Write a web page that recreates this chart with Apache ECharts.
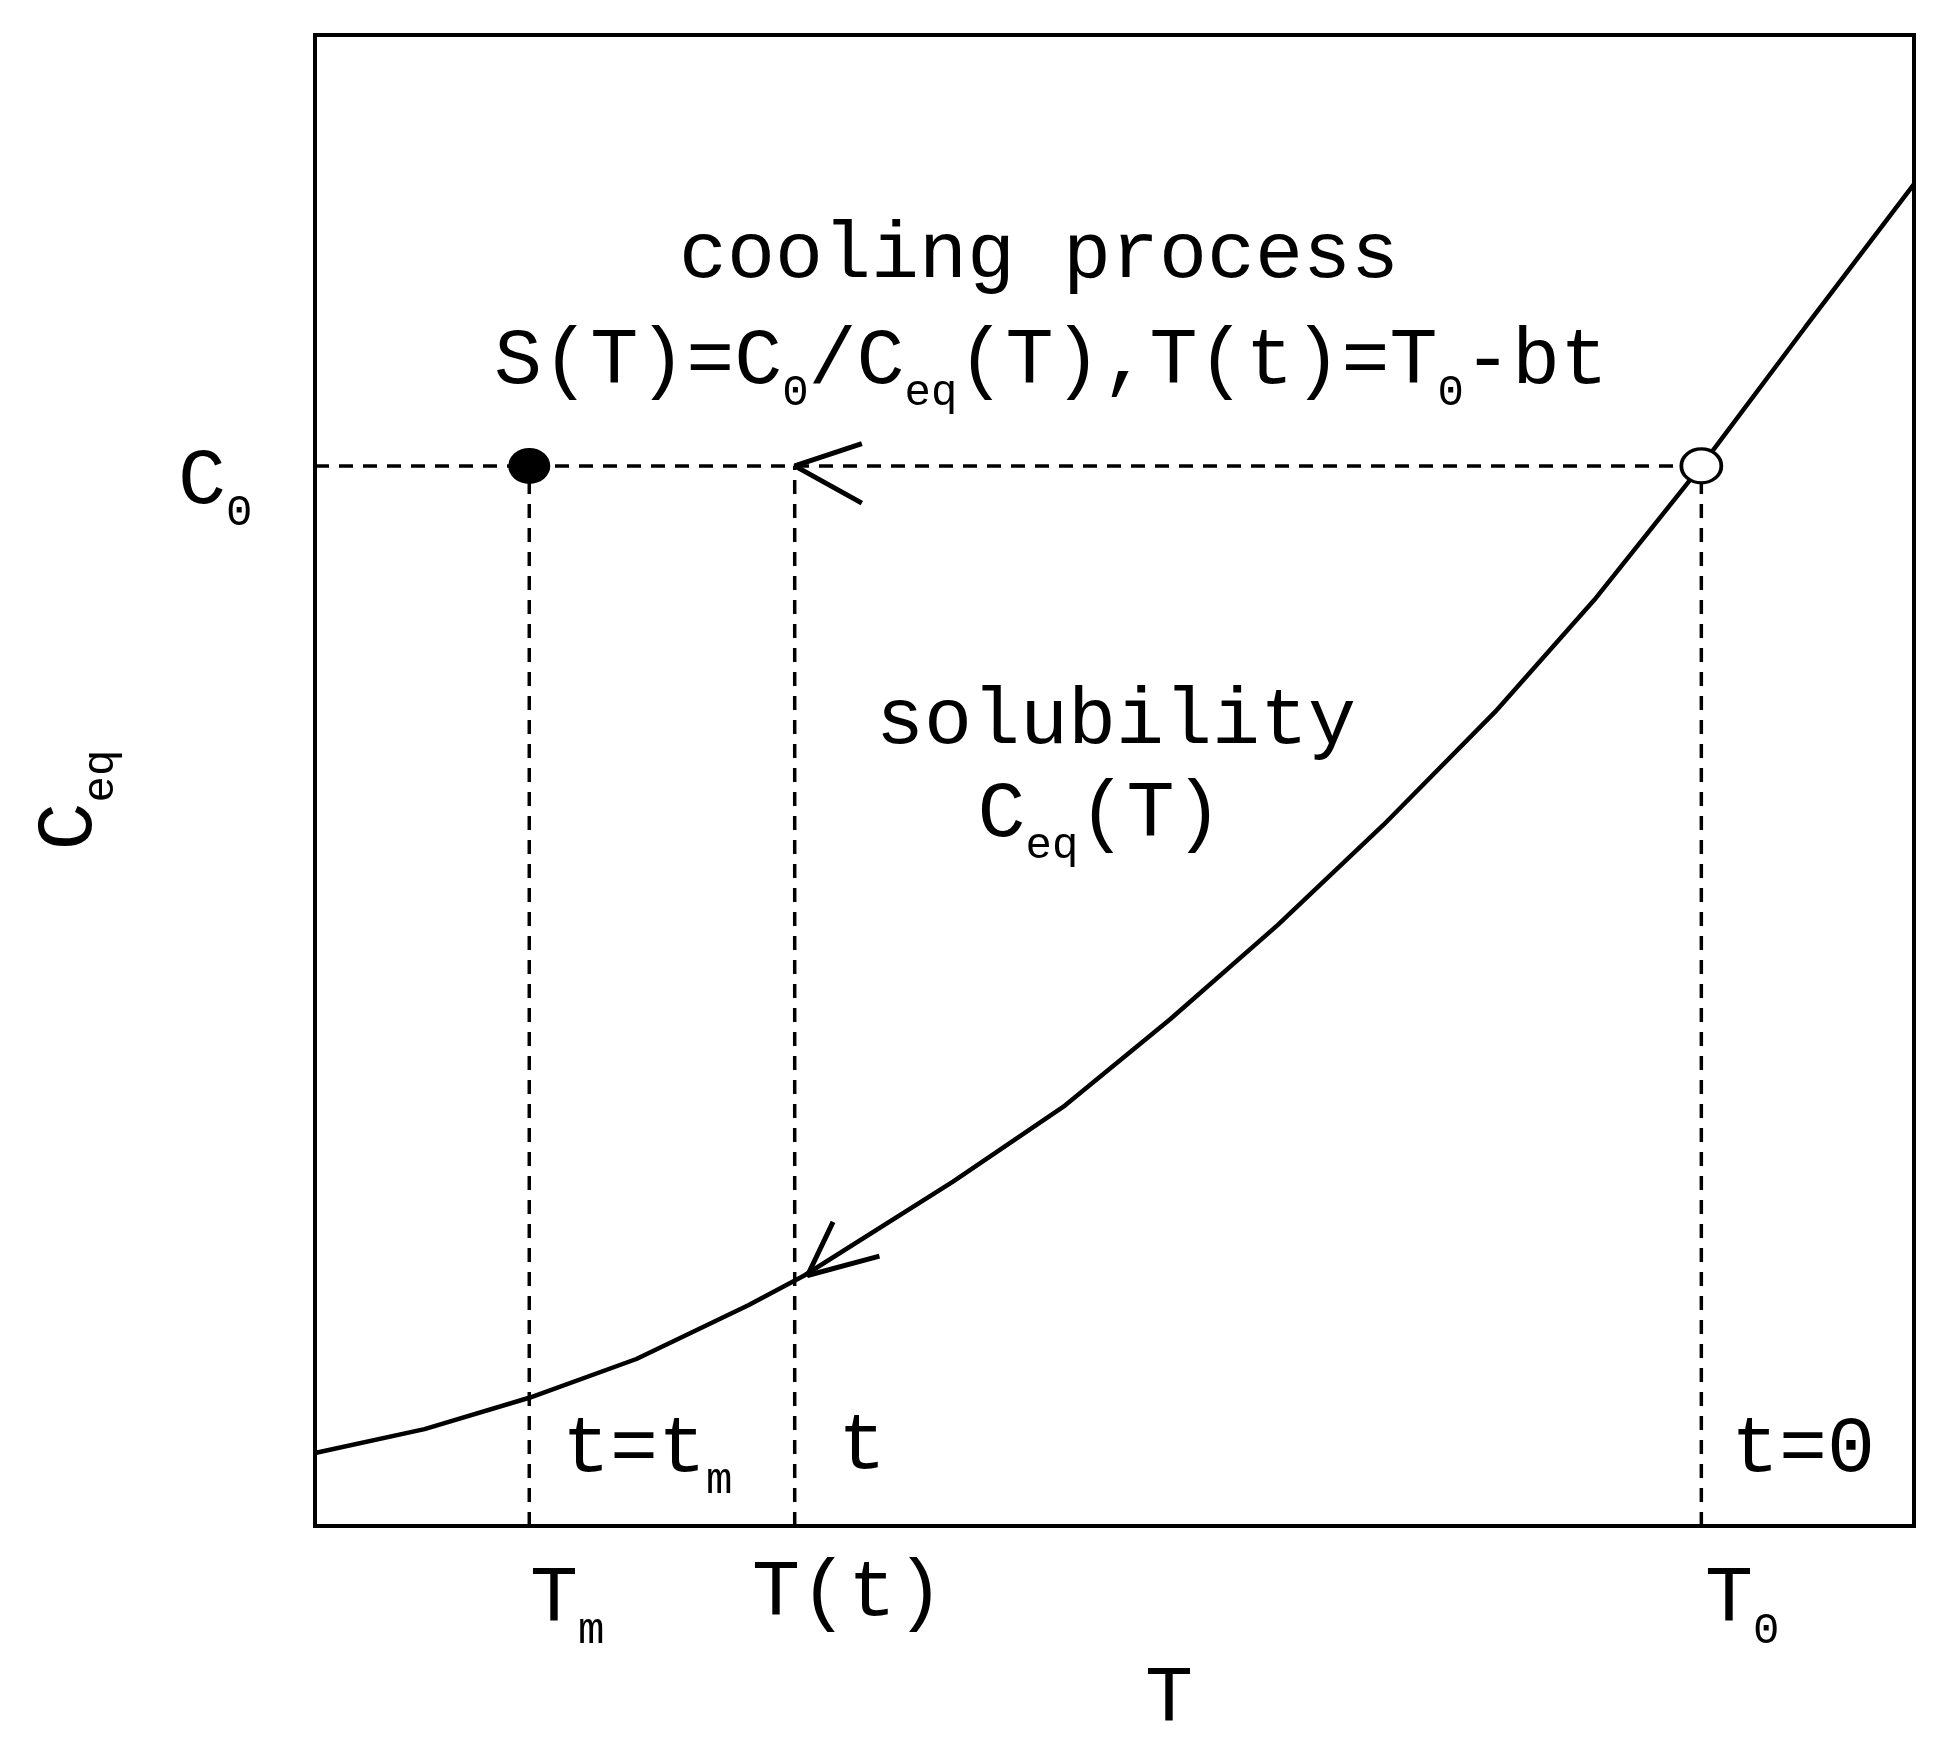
<!DOCTYPE html><html><head><meta charset="utf-8"><script src="https://cdn.jsdelivr.net/npm/echarts@6/dist/echarts.min.js"></script>
<style>html,body{margin:0;background:#fff}#c{width:1951px;height:1746px}</style></head><body><div id="c"></div><script>
const curveX=[0,6.85,13.4,20.1,27.1,30.6,39.9,46.9,53.5,60.2,66.8,73.8,80,86.7,93.2,100];
const curveY=[4.9,6.5,8.6,11.2,14.8,16.8,23.1,28.2,34.0,40.3,47.0,54.6,62.1,71.1,80.4,90.0];
const Tm=13.4, Tt=30.0, T0=86.7, C0=71.1;
const arrowH=[[34.2,72.6],[30.0,71.1],[34.2,68.6]];
const arrowC=[[32.4,20.4],[30.8,16.8],[35.3,18.1]];
const F='Liberation Mono';
const chart=echarts.init(document.getElementById('c'));
const dash={color:'#000',width:3.5,type:[14,10]};
const R={n:{fontFamily:F,fontSize:80,color:'#000'},s:{fontFamily:F,fontSize:44,color:'#000',padding:[62,0,0,0]}};
function T(x,y,t,a,rot){return {type:'text',x:x,y:y,rotation:rot||0,style:{text:t,rich:R,align:a||'center',verticalAlign:'middle',fontFamily:F,fontSize:80,fill:'#000'}};}
chart.setOption({animation:false,
grid:{left:315,right:37,top:35,bottom:220,show:true,borderColor:'#000',borderWidth:4},
xAxis:{type:'value',min:0,max:100,axisLine:{show:false},axisTick:{show:false},axisLabel:{show:false},splitLine:{show:false}},
yAxis:{type:'value',min:0,max:100,axisLine:{show:false},axisTick:{show:false},axisLabel:{show:false},splitLine:{show:false}},
series:[
{type:'line',data:curveX.map((x,i)=>[x,curveY[i]]),symbol:'none',lineStyle:{color:'#000',width:4.5},z:3},
{type:'line',data:[[0,C0],[T0,C0]],symbol:'none',lineStyle:dash},
{type:'line',data:[[Tm,0],[Tm,C0]],symbol:'none',lineStyle:dash},
{type:'line',data:[[Tt,0],[Tt,C0]],symbol:'none',lineStyle:dash},
{type:'line',data:[[T0,0],[T0,C0]],symbol:'none',lineStyle:dash},
{type:'line',data:arrowH,symbol:'none',lineStyle:{color:'#000',width:5}},
{type:'line',data:arrowC,symbol:'none',lineStyle:{color:'#000',width:5}},
{type:'scatter',data:[[Tm,C0]],symbol:'circle',symbolSize:[42,36],itemStyle:{color:'#000',opacity:1},z:5},
{type:'scatter',data:[[T0,C0]],symbol:'circle',symbolSize:[40,34],itemStyle:{color:'#fff',borderColor:'#000',borderWidth:3.5,opacity:1},z:5}
],
graphic:[
T(1039,256,'{n|cooling process}'),
T(1051,362,'{n|S(T)=C}{s|0}{n|/C}{s|eq}{n|(T),T(t)=T}{s|0}{n|-bt}'),
T(1116,722,'{n|solubility}'),
T(1100,815,'{n|C}{s|eq}{n|(T)}'),
T(562,1450,'{n|t=t}{s|m}','left'),
T(838,1447,'{n|t}','left'),
T(1731,1450,'{n|t=0}','left'),
T(530,1600,'{n|T}{s|m}','left'),
T(752,1594,'{n|T(t)}','left'),
T(1705,1600,'{n|T}{s|0}','left'),
T(1169,1700,'{n|T}'),
T(178,482,'{n|C}{s|0}','left'),
T(70,800,'{n|C}{s|eq}','center',Math.PI/2)
]});
</script></body></html>
